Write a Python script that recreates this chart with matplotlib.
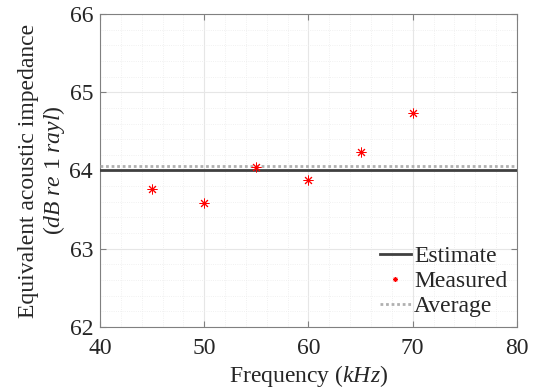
import matplotlib
matplotlib.use("Agg")
import matplotlib.pyplot as plt
from matplotlib.ticker import MultipleLocator

plt.rcParams['font.family'] = ['Liberation Serif', 'DejaVu Serif']
plt.rcParams['mathtext.fontset'] = 'custom'
plt.rcParams['mathtext.rm'] = 'Liberation Serif'
plt.rcParams['mathtext.it'] = 'Liberation Serif:italic'

freq = [45, 50, 55, 60, 65, 70]
measured = [63.76, 63.58, 64.05, 63.88, 64.24, 64.74]
estimate = 64.0
average = 64.06
x_range = [40, 80]

fig = plt.figure(figsize=(5.39, 3.91), dpi=100)
ax = fig.add_axes([0.1855, 0.164, 0.7735, 0.80])

ax.plot(x_range, [estimate, estimate], color='#404040', lw=2, label='Estimate', zorder=3)
ax.plot(freq, measured, linestyle='none', marker=(8, 2, 0), color='red',
        markersize=7, markeredgewidth=0.7, label='Measured', zorder=4)
ax.plot(x_range, [average, average], color='#b0b0b0', lw=2, linestyle=(0, (1, 1)),
        label='Average', zorder=3)

ax.set_xlim(40, 80)
ax.set_ylim(62, 66)
ax.xaxis.set_major_locator(MultipleLocator(10))
ax.xaxis.set_minor_locator(MultipleLocator(2))
ax.yaxis.set_major_locator(MultipleLocator(1))
ax.yaxis.set_minor_locator(MultipleLocator(0.2))

ax.grid(which='major', color='#e6e6e6', lw=0.8)
ax.grid(which='minor', color='#ececec', lw=0.6, linestyle=':')
ax.set_axisbelow(True)

ax.tick_params(which='both', direction='in', top=True, right=True, colors='#808080',
               labelcolor='#262626', labelsize=17)
ax.tick_params(which='major', length=4)
ax.tick_params(axis='x', pad=8)
ax.tick_params(axis='y', pad=5)
ax.tick_params(which='minor', length=0)
for s in ax.spines.values():
    s.set_color('#808080')
    s.set_linewidth(0.8)

ax.set_xlabel('Frequency ($\\mathit{kHz}$)', fontsize=17, color='#262626', labelpad=3)
ax.set_ylabel('Equivalent acoustic impedance\n($\\mathit{dB\\ re\\ 1\\ rayl}$)',
              fontsize=17, color='#262626', labelpad=2, linespacing=1.1)

leg = ax.legend(loc='lower right', frameon=False, fontsize=17, handlelength=1.3,
                handletextpad=0.15, labelspacing=0.15, borderaxespad=0.0, markerscale=0.5)
for t in leg.get_texts():
    t.set_color('#262626')

fig.savefig('out.png', dpi=100)
